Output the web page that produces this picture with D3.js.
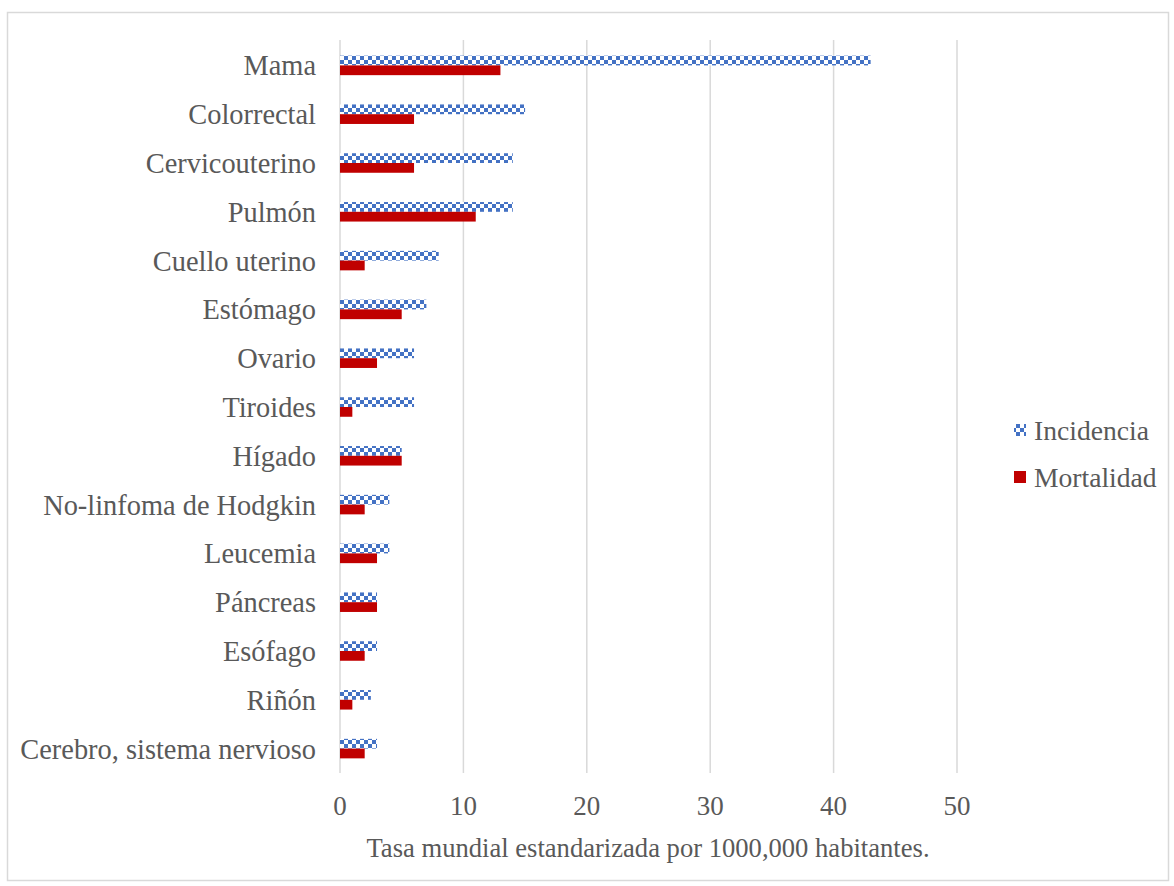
<!DOCTYPE html>
<html>
<head>
<meta charset="utf-8">
<script src="https://cdn.jsdelivr.net/npm/d3@7"></script>
<style>
  body { margin: 0; background: #fff; }
  text { font-family: "Liberation Serif", "Times New Roman", serif; fill: #595959; }
</style>
</head>
<body>
<svg id="chart" width="1174" height="886"></svg>
<script>
// data
const categories = ["Mama", "Colorrectal", "Cervicouterino", "Pulmón", "Cuello uterino",
  "Estómago", "Ovario", "Tiroides", "Hígado", "No-linfoma de Hodgkin", "Leucemia",
  "Páncreas", "Esófago", "Riñón", "Cerebro, sistema nervioso"];
const incidencia = [43, 15, 14, 14, 8, 7, 6, 6, 5, 4, 4, 3, 3, 2.5, 3];
const mortalidad = [13, 6, 6, 11, 2, 5, 3, 1, 5, 2, 3, 3, 2, 1, 2];
const xTicks = [0, 10, 20, 30, 40, 50];
const seriesNames = ["Incidencia", "Mortalidad"];

let svg = d3.select("#chart");

// outer frame
svg.append("rect")
  .attr("x", 7.5).attr("y", 12.5)
  .attr("width", 1161).attr("height", 868)
  .attr("fill", "#fff")
  .attr("stroke", "#d9d9d9")
  .attr("stroke-width", 1.5);

// checker pattern for incidencia
let defs = svg.append("defs");
let pat = defs.append("pattern")
  .attr("id", "checker")
  .attr("patternUnits", "userSpaceOnUse")
  .attr("width", 8).attr("height", 8);
pat.append("rect").attr("width", 8).attr("height", 8).attr("fill", "#fff");
pat.append("rect").attr("x", 0).attr("y", 0).attr("width", 4).attr("height", 4).attr("fill", "#4472c4");
pat.append("rect").attr("x", 4).attr("y", 4).attr("width", 4).attr("height", 4).attr("fill", "#4472c4");

let x = d3.scaleLinear()
  .domain([0, 50])
  .range([340, 957]);

let y = d3.scaleBand()
  .domain(categories)
  .range([41, 773])
  .paddingInner(0.6)
  .paddingOuter(0.3);

// gridlines
svg.append("g")
  .selectAll("line")
  .data(xTicks)
  .enter().append("line")
  .attr("x1", d => x(d)).attr("x2", d => x(d))
  .attr("y1", 40).attr("y2", 773)
  .attr("stroke", "#d9d9d9")
  .attr("stroke-width", 1.5);

const bh = y.bandwidth() / 2;

svg.append("g")
  .selectAll("rect")
  .data(categories)
  .enter().append("rect")
  .attr("x", x(0))
  .attr("y", d => y(d))
  .attr("width", (d, i) => x(incidencia[i]) - x(0))
  .attr("height", bh)
  .attr("fill", "url(#checker)");

svg.append("g")
  .selectAll("rect")
  .data(categories)
  .enter().append("rect")
  .attr("x", x(0))
  .attr("y", d => y(d) + bh)
  .attr("width", (d, i) => x(mortalidad[i]) - x(0))
  .attr("height", bh)
  .attr("fill", "#c00000");

// category labels
svg.append("g")
  .selectAll("text")
  .data(categories)
  .enter().append("text")
  .attr("x", 316)
  .attr("y", d => y(d) + y.bandwidth() / 2)
  .attr("dy", "0.35em")
  .attr("text-anchor", "end")
  .style("font-size", "28.4px")
  .text(d => d);

// x tick labels
svg.append("g")
  .selectAll("text")
  .data(xTicks)
  .enter().append("text")
  .attr("x", d => x(d))
  .attr("y", 815)
  .attr("text-anchor", "middle")
  .style("font-size", "27px")
  .text(d => d);

svg.append("text")
  .attr("x", 648)
  .attr("y", 857)
  .attr("text-anchor", "middle")
  .style("font-size", "26.6px")
  .text("Tasa mundial estandarizada por 1000,000 habitantes.");

// legend
let legend = svg.append("g");
seriesNames.forEach((name, i) => {
  let ly = 430 + i * 47;
  legend.append("rect")
    .attr("x", 1014).attr("y", ly - 6)
    .attr("width", 12).attr("height", 12)
    .attr("fill", i === 0 ? "url(#checker)" : "#c00000");
  legend.append("text")
    .attr("x", 1034).attr("y", ly)
    .attr("dy", "0.35em")
    .style("font-size", "27.6px")
    .text(name);
});
</script>
</body>
</html>
